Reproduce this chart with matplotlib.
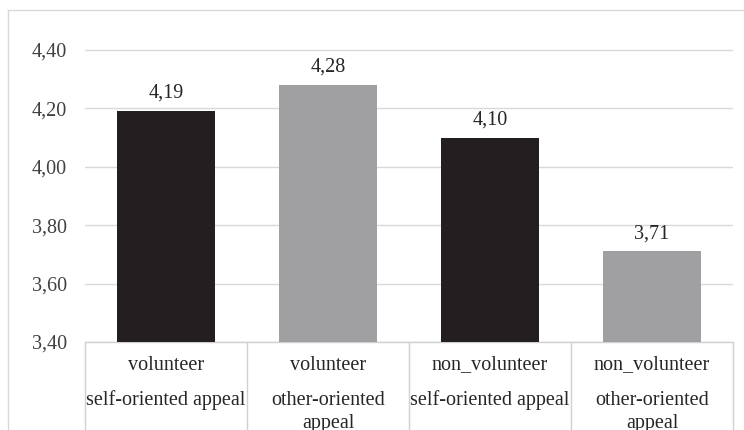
import matplotlib

matplotlib.use("Agg")
import matplotlib.pyplot as plt
from matplotlib.lines import Line2D

plt.rcParams["font.family"] = ["Liberation Serif", "DejaVu Serif"]
plt.rcParams["font.size"] = 14.5

# data
groups = ["volunteer", "volunteer", "non_volunteer", "non_volunteer"]
appeals = ["self-oriented appeal", "other-oriented\nappeal",
           "self-oriented appeal", "other-oriented\nappeal"]
means = [4.19, 4.28, 4.10, 3.71]
bar_colors = ["#231f20", "#a0a0a2", "#231f20", "#a0a0a2"]
yticks = [3.40, 3.60, 3.80, 4.00, 4.20, 4.40]

W, H = 744, 430
fig = plt.figure(figsize=(W / 100, H / 100), dpi=100)
fig.patch.set_facecolor("white")

# plot area in pixels
left, right, y_bot, y_top = 85, 733, 342, 50
ymin, ymax = 3.40, 4.45
ppu = (y_bot - y_top) / (4.40 - 3.40)
ax_top = y_top - (ymax - 4.40) * ppu
ax = fig.add_axes([left / W, 1 - y_bot / H, (right - left) / W, (y_bot - ax_top) / H])

x = list(range(len(means)))
ax.bar(x, means, width=0.605, color=bar_colors, zorder=3)
ax.set_xlim(-0.5, len(means) - 0.5)
ax.set_ylim(ymin, ymax)

for i, v in enumerate(means):
    ax.annotate(f"{v:.2f}".replace(".", ","), (i, v), xytext=(0, 6),
                textcoords="offset points", ha="center", va="bottom",
                color="#262626")

ax.set_yticks(yticks)
ax.set_yticklabels([f"{t:.2f}".replace(".", ",") for t in yticks], color="#404040")
ax.tick_params(axis="y", length=0, pad=13)
ax.set_xticks([])
for s in ["top", "right", "left"]:
    ax.spines[s].set_visible(False)
ax.spines["bottom"].set_color("#d0d0d0")
ax.spines["bottom"].set_linewidth(1.0)
ax.grid(axis="y", color="#d9d9d9", linewidth=1.0, zorder=0)
ax.set_axisbelow(True)

# category table under the axis
depth = (H - y_bot + 5) / ppu
ax.vlines([i - 0.5 for i in range(len(means) + 1)], ymin - depth, ymin,
          colors="#d0d0d0", linewidth=1.0, clip_on=False)
for i in x:
    ax.text(i, ymin - 23 / ppu, groups[i], ha="center", va="center",
            color="#262626", clip_on=False)
    for k, line in enumerate(appeals[i].split("\n")):
        ax.text(i, ymin - (58 + 23 * k) / ppu, line, ha="center", va="center",
                color="#262626", clip_on=False)

# outer chart border
fig.add_artist(Line2D([8 / W, 8 / W], [0, 1 - 10 / H], color="#d9d9d9", linewidth=1.0))
fig.add_artist(Line2D([8 / W, 1], [1 - 10 / H, 1 - 10 / H], color="#d9d9d9", linewidth=1.0))

fig.savefig("out.png", dpi=100)
